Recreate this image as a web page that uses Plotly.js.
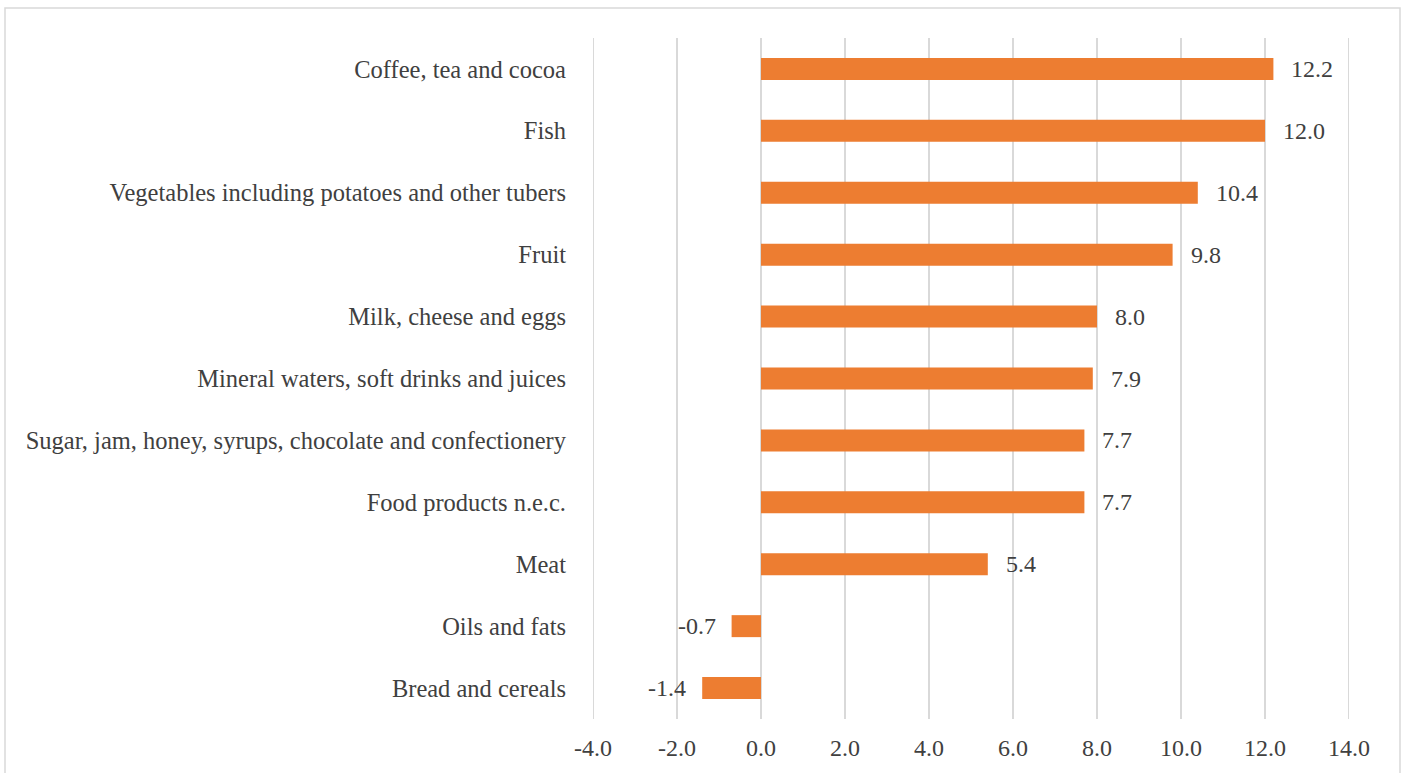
<!DOCTYPE html>
<html>
<head>
<meta charset="utf-8">
<script src="https://cdn.plot.ly/plotly-3.0.1.min.js"></script>
<style>
html,body{margin:0;padding:0;background:#fff;}
#chart{width:1405px;height:773px;}
</style>
</head>
<body>
<div id="chart"></div>
<script>
const categories = [
  "Coffee, tea and cocoa",
  "Fish",
  "Vegetables including potatoes and other tubers",
  "Fruit",
  "Milk, cheese and eggs",
  "Mineral waters, soft drinks and juices",
  "Sugar, jam, honey, syrups, chocolate and confectionery",
  "Food products n.e.c.",
  "Meat",
  "Oils and fats",
  "Bread and cereals"
];
const values = [12.2, 12.0, 10.4, 9.8, 8.0, 7.9, 7.7, 7.7, 5.4, -0.7, -1.4];
const tickVals = [-4, -2, 0, 2, 4, 6, 8, 10, 12, 14];
const tickText = ["-4.0", "-2.0", "0.0", "2.0", "4.0", "6.0", "8.0", "10.0", "12.0", "14.0"];
const xMin = -4, xMax = 14;

const FONT = "'Liberation Serif', 'Times New Roman', Times, serif";
const TXT = "#404040";
const GRID = "#D9D9D9";

const annotations = values.map((v, i) => ({
  x: v, y: categories[i], xref: "x", yref: "y",
  text: v.toFixed(1),
  showarrow: false,
  xanchor: v >= 0 ? "left" : "right",
  xshift: v >= 0 ? 16 : -14,
  font: {family: FONT, size: 24, color: TXT}
}));

const trace = {
  type: "bar",
  orientation: "h",
  x: values,
  y: categories,
  marker: {color: "#ED7D31"},
  hoverinfo: "x+y"
};

// edge gridlines (Plotly omits grid lines that sit on the plot edges)
const edgeGrid = [xMin, xMax].map(v => ({
  type: "line", xref: "x", yref: "paper", x0: v, x1: v, y0: 0, y1: 1,
  line: {color: GRID, width: 2}, layer: "below"
}));

const layout = {
  width: 1405, height: 773,
  margin: {l: 593, r: 56, t: 38, b: 54, pad: 0},
  paper_bgcolor: "#fff", plot_bgcolor: "#fff",
  showlegend: false,
  bargap: 0.645,
  xaxis: {
    range: [xMin, xMax],
    tickvals: tickVals, ticktext: tickText,
    showgrid: true, gridcolor: GRID, gridwidth: 2,
    zeroline: false, showline: false, ticks: "",
    ticklabelstandoff: 12,
    tickfont: {family: FONT, size: 24, color: TXT},
    fixedrange: true
  },
  yaxis: {
    type: "category",
    categoryorder: "array", categoryarray: categories,
    autorange: "reversed",
    showgrid: false, zeroline: false, showline: false, ticks: "",
    ticklabelstandoff: 26,
    tickfont: {family: FONT, size: 24.5, color: TXT},
    fixedrange: true
  },
  annotations: annotations,
  shapes: [{
    type: "rect", xref: "paper", yref: "paper",
    x0: (5 - 593) / 756, x1: (1400 - 593) / 756,
    y0: (719 - 790) / 681, y1: (719 - 8) / 681,
    line: {color: GRID, width: 1.5}, fillcolor: "rgba(0,0,0,0)", layer: "below"
  }].concat(edgeGrid)
};

Plotly.newPlot("chart", [trace], layout, {displayModeBar: false, staticPlot: true});
</script>
</body>
</html>
